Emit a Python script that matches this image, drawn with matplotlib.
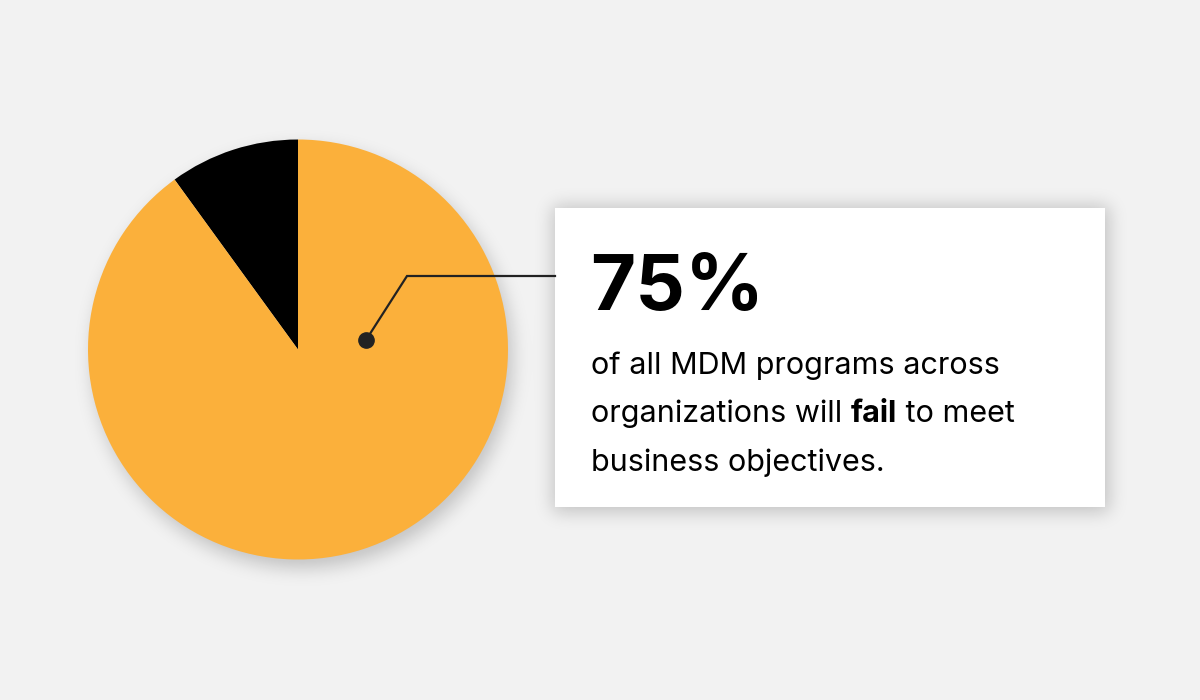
import numpy as np
import matplotlib
matplotlib.use("Agg")
import matplotlib.pyplot as plt
from matplotlib.patches import Rectangle

# data
shares = [10, 90]
slice_colors = ["#000000", "#FBB03B"]
headline = "75%"
body_lines = [
    [("of all MDM programs across", "normal")],
    [("organizations will ", "normal"), ("fail", "bold"), (" to meet", "normal")],
    [("business objectives.", "normal")],
]

W, H = 1200, 700
bg = "#F2F2F2"
plt.rcParams['font.family'] = ['Inter', 'DejaVu Sans']

fig = plt.figure(figsize=(12, 7), dpi=100, facecolor=bg)
ax = fig.add_axes([0, 0, 1, 1])

def img_y(y):
    return H - y

# soft shadows, blurred masks
def blur(a, s):
    k = np.arange(-3 * s, 3 * s + 1)
    g = np.exp(-k**2 / (2.0 * s * s))
    g /= g.sum()
    a = np.apply_along_axis(lambda r: np.convolve(r, g, mode='same'), 1, a)
    a = np.apply_along_axis(lambda c: np.convolve(c, g, mode='same'), 0, a)
    return a

yy, xx = np.mgrid[0:H, 0:W]
cx, cy, r = 298, 349.5, 210
circ = ((xx - (cx + 4)) ** 2 + (yy - (cy + 8)) ** 2 <= r * r).astype(float)
box = ((xx >= 553) & (xx <= 1108) & (yy >= 206) & (yy <= 511)).astype(float)
sh = 0.20 * blur(circ, 9) + 0.20 * blur(box, 9)
rgba = np.zeros((H, W, 4))
rgba[..., 3] = np.clip(sh, 0, 1)
ax.imshow(rgba, extent=(0, W, 0, H), origin='upper', zorder=1, interpolation='bilinear')

# pie
ax.pie(shares, colors=slice_colors, startangle=90, counterclock=True,
       center=(cx, img_y(cy)), radius=r, frame=True,
       wedgeprops=dict(linewidth=0))
for p in ax.patches:
    p.set_zorder(2)

ax.set_xlim(0, W)
ax.set_ylim(0, H)
ax.set_aspect('equal')
ax.axis('off')

# card
ax.add_patch(Rectangle((555, img_y(507)), 550, 299, facecolor="white",
                       edgecolor="none", zorder=3))

# leader line
ax.plot([366, 407, 555], [img_y(340), img_y(276), img_y(276)],
        color="#222222", lw=1.6, zorder=4, solid_joinstyle='miter')
ax.plot([366], [img_y(340)], 'o', color="#222222", ms=11, zorder=5)

# texts
ax.text(590, img_y(310), headline, fontsize=56, fontweight='bold',
        color="black", va='baseline', ha='left', zorder=6)

fig.canvas.draw()
rend = fig.canvas.get_renderer()
baselines = [374, 422, 471]
for line, yb in zip(body_lines, baselines):
    x = 591
    for txt, wt in line:
        t = ax.text(x, img_y(yb), txt, fontsize=22, fontweight=wt,
                    color="black", va='baseline', ha='left', zorder=6)
        bb = t.get_window_extent(renderer=rend)
        x += bb.width * (W / fig.bbox.width)

fig.savefig("out.png", dpi=100, facecolor=bg)
